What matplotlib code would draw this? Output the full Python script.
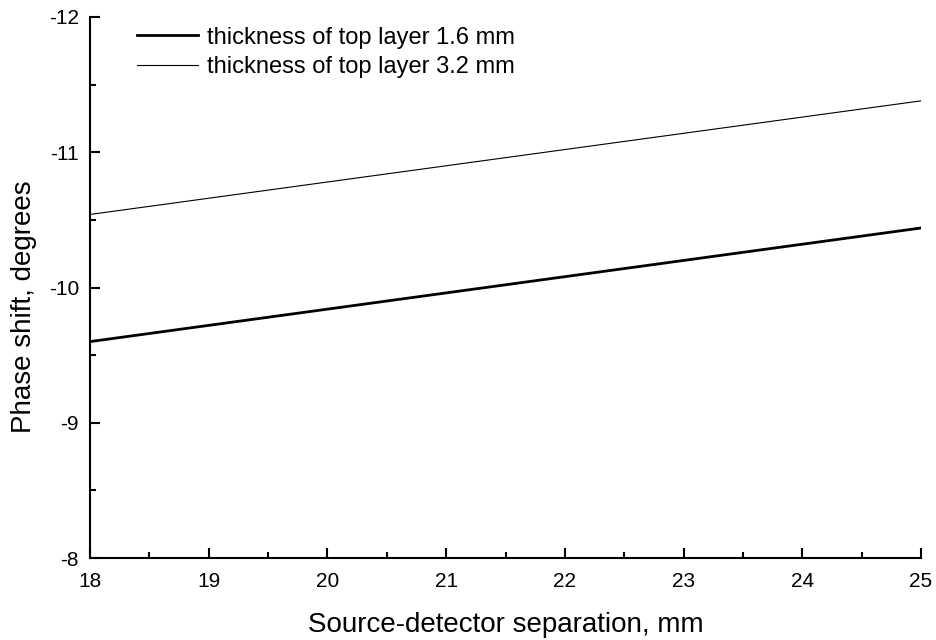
import matplotlib
matplotlib.use("Agg")
import matplotlib.pyplot as plt
from matplotlib.ticker import MultipleLocator

plt.rcParams['font.family'] = ['Liberation Sans', 'DejaVu Sans']
plt.rcParams['axes.unicode_minus'] = False

separation = [18, 19, 20, 21, 22, 23, 24, 25]
phase_16 = [-9.60, -9.72, -9.84, -9.96, -10.08, -10.20, -10.32, -10.44]
phase_32 = [-10.54, -10.66, -10.78, -10.90, -11.02, -11.14, -11.26, -11.38]
label_16 = "thickness of top layer 1.6 mm"
label_32 = "thickness of top layer 3.2 mm"
xlabel = "Source-detector separation, mm"
ylabel = "Phase shift, degrees"

fig = plt.figure(figsize=(9.36, 6.4), dpi=100)
ax = fig.add_axes([90/936, 82/640, 831/936, 541/640])

ax.plot(separation, phase_16, color='black', lw=2.0, label=label_16)
ax.plot(separation, phase_32, color='black', lw=0.8, label=label_32)

ax.set_xlim(18, 25)
ax.set_ylim(-8, -12)
ax.xaxis.set_major_locator(MultipleLocator(1))
ax.xaxis.set_minor_locator(MultipleLocator(0.5))
ax.yaxis.set_major_locator(MultipleLocator(1))
ax.yaxis.set_minor_locator(MultipleLocator(0.5))

for s in ['top', 'right']:
    ax.spines[s].set_visible(False)
for s in ['left', 'bottom']:
    ax.spines[s].set_linewidth(1.5)

ax.tick_params(which='major', direction='in', length=7.5, width=1.5, labelsize=15)
ax.tick_params(axis='y', which='major', pad=8)
ax.tick_params(axis='x', which='major', pad=10)
ax.tick_params(which='minor', direction='in', length=4.3, width=1.5)

ax.set_xlabel(xlabel, fontsize=20, labelpad=15)
ax.set_ylabel(ylabel, fontsize=20)
ax.yaxis.set_label_coords(-0.064, 0.464)

leg = ax.legend(loc='upper left', frameon=False, fontsize=17, handlelength=2.6,
                handletextpad=0.38, labelspacing=0.32, borderpad=0, borderaxespad=0,
                bbox_to_anchor=(0.0566, 0.982))

fig.savefig("out.png", dpi=100)
